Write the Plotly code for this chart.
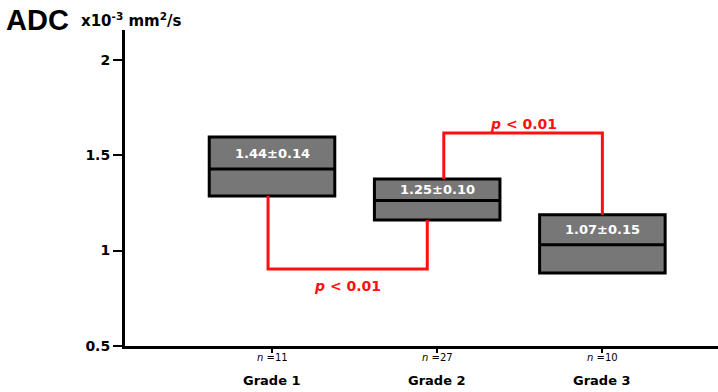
import plotly.graph_objects as go

categories = ["Grade 1", "Grade 2", "Grade 3"]
n_labels = ["11", "27", "10"]
q1 = [1.285, 1.160, 0.882]
median = [1.427, 1.262, 1.030]
q3 = [1.594, 1.374, 1.188]
mean_sd = ["1.44±0.14", "1.25±0.10", "1.07±0.15"]

bracket1_y = 0.903
bracket2_y = 1.615

xs = [1, 2, 3]
FONT = "DejaVu Sans"
RED = "#ff1010"
fig = go.Figure()

for i, x in enumerate(xs):
    fig.add_trace(go.Box(
        x=[x], q1=[q1[i]], median=[median[i]], q3=[q3[i]],
        lowerfence=[q1[i]], upperfence=[q3[i]],
        width=0.76, fillcolor="#777777",
        line=dict(color="black", width=3),
        boxpoints=False, showlegend=False, hoverinfo="skip",
    ))
    fig.add_annotation(x=x, y=(q3[i] + median[i]) / 2, text=f"<b>{mean_sd[i]}</b>",
                       showarrow=False, font=dict(family=FONT, size=13, color="white"))
    fig.add_annotation(x=x, y=-0.012, yref="paper", yanchor="top",
                       text=f"<i>n</i> ={n_labels[i]}", showarrow=False,
                       font=dict(family=FONT, size=10, color="black"))
    fig.add_annotation(x=x, y=-0.078, yref="paper", yanchor="top",
                       text=f"<b>{categories[i]}</b>", showarrow=False,
                       font=dict(family=FONT, size=13, color="black"))

# bracket 1: Grade 1 bottom -> Grade 2 bottom
b1x = [0.976, 0.976, 1.94, 1.94]
b1y = [q1[0], bracket1_y, bracket1_y, q1[1]]
fig.add_trace(go.Scatter(x=b1x, y=b1y, mode="lines",
                         line=dict(color=RED, width=3),
                         showlegend=False, hoverinfo="skip"))
fig.add_annotation(x=(b1x[0] + b1x[2]) / 2, y=bracket1_y, yshift=-17,
                   text="<b><i>p</i> < 0.01</b>", showarrow=False,
                   font=dict(family=FONT, size=14, color=RED))

# bracket 2: Grade 2 top -> Grade 3 top
b2x = [2.04, 2.04, 3.0, 3.0]
b2y = [q3[1], bracket2_y, bracket2_y, q3[2]]
fig.add_trace(go.Scatter(x=b2x, y=b2y, mode="lines",
                         line=dict(color=RED, width=3),
                         showlegend=False, hoverinfo="skip"))
fig.add_annotation(x=(b2x[0] + b2x[2]) / 2, y=bracket2_y, yshift=9,
                   text="<b><i>p</i> < 0.01</b>", showarrow=False,
                   font=dict(family=FONT, size=14, color=RED))

fig.add_annotation(x=-121 / 593, y=1 + 10 / 316, xref="paper", yref="paper",
                   xanchor="left", yanchor="middle", text="<b>ADC</b>", showarrow=False,
                   font=dict(family="Liberation Sans", size=29, color="black"))
fig.add_annotation(x=-46 / 593, y=1 + 10 / 316, xref="paper", yref="paper",
                   xanchor="left", yanchor="middle",
                   text="<b>x10<sup>-3</sup> mm<sup>2</sup>/s</b>", showarrow=False,
                   font=dict(family=FONT, size=15, color="black"))

fig.update_layout(
    width=718, height=392,
    margin=dict(l=125, r=0, t=30, b=46),
    paper_bgcolor="white", plot_bgcolor="white",
    xaxis=dict(range=[0.11, 3.70], tickvals=xs, showticklabels=False,
               showgrid=False, zeroline=False, showline=True, linecolor="black",
               linewidth=3, ticks="outside", ticklen=4, tickwidth=2, tickcolor="black"),
    yaxis=dict(range=[0.5, 2.155], tickvals=[0.5, 1, 1.5, 2],
               ticktext=["<b>0.5</b>", "<b>1</b>", "<b>1.5</b>", "<b>2</b>"],
               showgrid=False, zeroline=False, showline=True, linecolor="black",
               linewidth=3, ticks="outside", ticklen=9, tickwidth=2, tickcolor="black",
               tickfont=dict(family=FONT, size=14, color="black")),
)

fig.write_html("out.html", config={"displayModeBar": False},
               post_script="document.body.style.margin='0';")
